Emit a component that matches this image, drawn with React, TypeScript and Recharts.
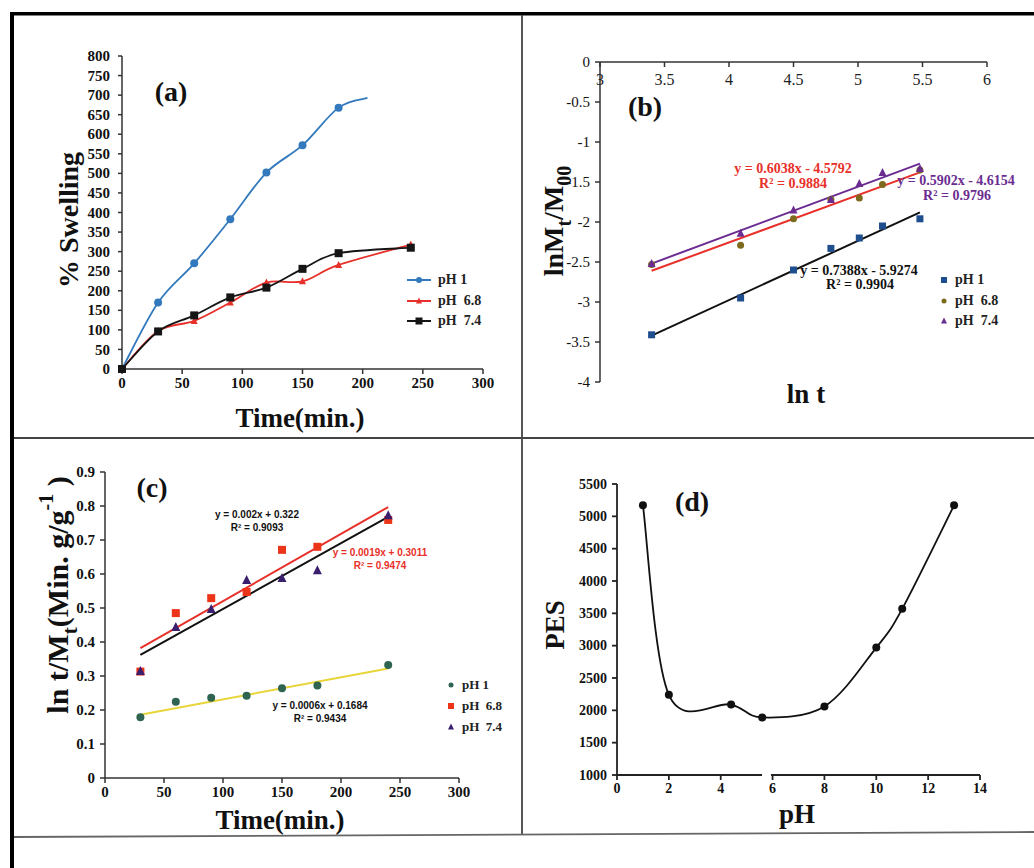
import { LineChart, Line, ComposedChart, Scatter, XAxis, YAxis, Legend, Label } from 'recharts'

const SERIF = '"Liberation Serif", "Times New Roman", serif'
const SANS = '"Liberation Sans", Arial, sans-serif'

// (a) % swelling vs time
const timePh1 = [0, 30, 60, 90, 120, 150, 180, 204]
const swellPh1 = [0, 170, 270, 383, 502, 572, 668, 693]
const timeBuffer = [0, 30, 60, 90, 120, 150, 180, 240]
const swellPh68 = [0, 97, 123, 170, 221, 224, 266, 318]
const swellPh74 = [0, 96, 137, 183, 208, 256, 296, 310]
const ticksTime = [0, 50, 100, 150, 200, 250, 300]
const ticksSwell = [0, 50, 100, 150, 200, 250, 300, 350, 400, 450, 500, 550, 600, 650, 700, 750, 800]

// (b) ln Mt/M00 vs ln t
const lnT = [3.4, 4.09, 4.5, 4.79, 5.01, 5.19, 5.48]
const lnMPh1 = [-3.41, -2.95, -2.6, -2.33, -2.2, -2.05, -1.96]
const lnMPh68 = [-2.53, -2.29, -1.96, -1.72, -1.7, -1.53, -1.35]
const lnMPh74 = [-2.52, -2.14, -1.85, -1.72, -1.52, -1.38, -1.33]
const fitLnT = [3.4, 5.48]
const fitBlackB = [-3.42, -1.88]
const fitRedB = [-2.61, -1.38]
const fitPurpleB = [-2.52, -1.27]
const ticksLnT = [3, 3.5, 4, 4.5, 5, 5.5, 6]
const ticksLnM = [0, -0.5, -1, -1.5, -2, -2.5, -3, -3.5, -4]

// (c) t/Mt vs time
const timeC = [30, 60, 90, 120, 150, 180, 240]
const tMPh1 = [0.179, 0.224, 0.236, 0.242, 0.264, 0.272, 0.332]
const tMPh68 = [0.313, 0.485, 0.529, 0.547, 0.671, 0.68, 0.759]
const tMPh74 = [0.315, 0.444, 0.497, 0.582, 0.588, 0.611, 0.773]
const fitTimeC = [30, 240]
const fitYellowC = [0.186, 0.322]
const fitRedC = [0.382, 0.797]
const fitBlackC = [0.362, 0.768]
const ticksTM = [0, 0.1, 0.2, 0.3, 0.4, 0.5, 0.6, 0.7, 0.8, 0.9]

// (d) PES vs pH
const phD = [1, 2, 4.4, 5.6, 8, 10, 11, 13]
const pes = [5170, 2240, 2090, 1890, 2060, 2970, 3570, 5170]
const ticksPh = [0, 2, 4, 6, 8, 10, 12, 14]
const ticksPes = [1000, 1500, 2000, 2500, 3000, 3500, 4000, 4500, 5000, 5500]

const pts = (xs: number[], ys: number[]) => xs.map((x, i) => ({ x, y: ys[i] }))

// excel style smoothed line: catmull-rom through every point
const excelSmooth = (context: any) => {
  let p: number[][] = []
  return {
    areaStart() {},
    areaEnd() {},
    lineStart() {
      p = []
    },
    point(x: number, y: number) {
      p.push([+x, +y])
    },
    lineEnd() {
      if (!p.length) return
      context.moveTo(p[0][0], p[0][1])
      for (let i = 0; i < p.length - 1; i++) {
        const p0 = p[Math.max(i - 1, 0)]
        const p1 = p[i]
        const p2 = p[i + 1]
        const p3 = p[Math.min(i + 2, p.length - 1)]
        context.bezierCurveTo(
          p1[0] + (p2[0] - p0[0]) / 6,
          p1[1] + (p2[1] - p0[1]) / 6,
          p2[0] - (p3[0] - p1[0]) / 6,
          p2[1] - (p3[1] - p1[1]) / 6,
          p2[0],
          p2[1]
        )
      }
    },
  }
}

type Shape = 'circle' | 'square' | 'triangle'

function Mark({ shape, cx, cy, size, fill }: { shape: Shape; cx: number; cy: number; size: number; fill: string }) {
  const h = size / 2
  if (shape === 'square') return <rect x={cx - h} y={cy - h} width={size} height={size} fill={fill} />
  if (shape === 'triangle')
    return <polygon points={`${cx},${cy - h - 1} ${cx + h + 0.5},${cy + h} ${cx - h - 0.5},${cy + h}`} fill={fill} />
  return <circle cx={cx} cy={cy} r={h} fill={fill} />
}

const dotOf = (shape: Shape, size: number, fill: string, skipX?: number) => (props: any) => {
  if (props.payload.x === skipX) return <g key={`s${props.index}`} />
  return <Mark key={`m${props.index}`} shape={shape} cx={props.cx} cy={props.cy} size={size} fill={fill} />
}

const shapeOf = (shape: Shape, size: number, fill: string) => (props: any) => (
  <Mark shape={shape} cx={props.cx} cy={props.cy} size={size} fill={fill} />
)

// tick text in the figure's serif face
const tickOf = (size: number, weight: string) => (props: any) => {
  const dy = props.verticalAnchor === 'start' ? '0.72em' : '0.34em'
  return (
    <text
      x={props.x}
      y={props.y}
      dy={dy}
      textAnchor={props.textAnchor}
      style={{ fontFamily: SERIF, fontWeight: weight as any, fontSize: size }}
      fill="#111"
    >
      {props.payload.value}
    </text>
  )
}

const hTitle = (cx: number, y: number, text: string, size: number) => () => (
  <text x={cx} y={y} textAnchor="middle" fontFamily={SERIF} fontWeight="bold" fontSize={size} fill="#111">
    {text}
  </text>
)

const vTitle = (cx: number, cy: number, size: number, body: any) => () => (
  <text
    x={cx}
    y={cy}
    transform={`rotate(-90 ${cx} ${cy})`}
    textAnchor="middle"
    dominantBaseline="central"
    fontFamily={SERIF}
    fontWeight="bold"
    fontSize={size}
    fill="#111"
  >
    {body}
  </text>
)

type LegendMark = { shape: Shape; size: number; line?: boolean }

const legendOf = (marks: Record<string, LegendMark>, fontSize: number, rowH: number) =>
  ({ payload }: any) => (
    <div style={{ fontFamily: SERIF, fontWeight: 'bold', fontSize, lineHeight: `${rowH}px`, color: '#222' }}>
      {Object.keys(marks).map((name) => {
        const e = (payload || []).find((p: any) => p.value === name)
        if (!e) return null
        const m = marks[name]
        const w = m.line ? 24 : 10
        return (
          <div key={name} style={{ display: 'flex', alignItems: 'center', whiteSpace: 'pre' }}>
            <svg width={w} height={10} style={{ overflow: 'visible' }}>
              {m.line && <line x1={0} x2={24} y1={5} y2={5} stroke={e.color} strokeWidth={2} />}
              <Mark shape={m.shape} cx={w / 2} cy={5} size={m.size} fill={e.color} />
            </svg>
            <span style={{ marginLeft: m.line ? 7 : 6 }}>{name}</span>
          </div>
        )
      })}
    </div>
  )

const BLUE_A = '#3279bd'
const RED = '#e8302a'
const PURPLE = '#6b2c91'

function SwellingPanel() {
  const tick = tickOf(15, 'bold')
  return (
    <div style={{ position: 'absolute', left: 14, top: 16 }}>
      <LineChart width={505} height={420} margin={{ top: 40, right: 36, bottom: 37, left: 38 }}>
        <XAxis type="number" dataKey="x" domain={[0, 300]} ticks={ticksTime} tick={tick} stroke="#333" strokeWidth={1.5} tickSize={5} tickMargin={3} height={30}>
          <Label content={hTitle(286, 411, 'Time(min.)', 27)} />
        </XAxis>
        <YAxis type="number" domain={[0, 800]} ticks={ticksSwell} tick={tick} stroke="#333" strokeWidth={1.5} tickSize={4} tickMargin={8} width={70} interval={0}>
          <Label content={vTitle(54, 204, 28, '% Swelling')} />
        </YAxis>
        <Legend
          layout="vertical"
          align="center"
          verticalAlign="middle"
          wrapperStyle={{ left: 393, top: 254, width: 90 }}
          content={legendOf(
            {
              'pH 1': { shape: 'circle', size: 6, line: true },
              'pH  6.8': { shape: 'triangle', size: 5, line: true },
              'pH  7.4': { shape: 'square', size: 7, line: true },
            },
            14,
            20.5
          )}
        />
        <Line data={pts(timePh1, swellPh1)} dataKey="y" name="pH 1" type={excelSmooth as any} stroke={BLUE_A} strokeWidth={1.8} dot={dotOf('circle', 8, BLUE_A, 204)} isAnimationActive={false} />
        <Line data={pts(timeBuffer, swellPh68)} dataKey="y" name="pH  6.8" type={excelSmooth as any} stroke={RED} strokeWidth={1.8} dot={dotOf('triangle', 6, RED)} isAnimationActive={false} />
        <Line data={pts(timeBuffer, swellPh74)} dataKey="y" name="pH  7.4" type={excelSmooth as any} stroke="#151515" strokeWidth={1.8} dot={dotOf('square', 8, '#151515')} isAnimationActive={false} />
      </LineChart>
    </div>
  )
}

const lnTTick = (props: any) => (
  <g>
    <line x1={props.x} x2={props.x} y1={props.y} y2={props.y + 5} stroke="#333" strokeWidth={1.5} />
    <text x={props.x} y={props.y + 23} textAnchor="middle" fontFamily={SERIF} fontSize={16} fill="#222">
      {props.payload.value}
    </text>
  </g>
)

function KineticsPanel() {
  return (
    <div style={{ position: 'absolute', left: 524, top: 16 }}>
      <ComposedChart width={508} height={420} margin={{ top: 36, right: 45, bottom: 54, left: 6 }}>
        <XAxis type="number" dataKey="x" orientation="top" domain={[3, 6]} ticks={ticksLnT} tick={lnTTick} tickLine={false} tickSize={0} tickMargin={0} stroke="#333" strokeWidth={1.5} height={10} />
        <YAxis type="number" domain={[-4, 0]} ticks={ticksLnM} tick={tickOf(15, 'normal')} stroke="#333" strokeWidth={1.5} tickSize={5} tickMargin={5} width={70} interval={0}>
          <Label
            content={vTitle(
              29,
              205,
              28,
              <>
                lnM<tspan baselineShift="sub" fontSize={20}>t</tspan>/M<tspan baselineShift="sub" fontSize={20}>00</tspan>
              </>
            )}
          />
        </YAxis>
        <Legend
          layout="vertical"
          align="center"
          verticalAlign="middle"
          wrapperStyle={{ left: 415, top: 254, width: 90 }}
          content={legendOf(
            {
              'pH 1': { shape: 'square', size: 6 },
              'pH  6.8': { shape: 'circle', size: 5 },
              'pH  7.4': { shape: 'triangle', size: 5 },
            },
            14,
            20.5
          )}
        />
        <Line data={pts(fitLnT, fitPurpleB)} dataKey="y" name="fit 7.4" stroke={PURPLE} strokeWidth={2} dot={false} legendType="none" isAnimationActive={false} />
        <Line data={pts(fitLnT, fitRedB)} dataKey="y" name="fit 6.8" stroke={RED} strokeWidth={2} dot={false} legendType="none" isAnimationActive={false} />
        <Line data={pts(fitLnT, fitBlackB)} dataKey="y" name="fit 1" stroke="#111" strokeWidth={2} dot={false} legendType="none" isAnimationActive={false} />
        <Scatter data={pts(lnT, lnMPh1)} dataKey="y" name="pH 1" fill="#1f4e8f" shape={shapeOf('square', 7, '#1f4e8f')} isAnimationActive={false} />
        <Scatter data={pts(lnT, lnMPh68)} dataKey="y" name="pH  6.8" fill="#7d6a1c" shape={shapeOf('circle', 7, '#7d6a1c')} isAnimationActive={false} />
        <Scatter data={pts(lnT, lnMPh74)} dataKey="y" name="pH  7.4" fill={PURPLE} shape={shapeOf('triangle', 7, PURPLE)} isAnimationActive={false} />
      </ComposedChart>
    </div>
  )
}

function SecondOrderPanel() {
  const tick = tickOf(15, 'bold')
  return (
    <div style={{ position: 'absolute', left: 14, top: 440 }}>
      <ComposedChart width={505} height={410} margin={{ top: 32, right: 60, bottom: 42, left: 21 }}>
        <XAxis type="number" dataKey="x" domain={[0, 300]} ticks={ticksTime} tick={tick} stroke="#333" strokeWidth={1.5} tickSize={5} tickMargin={3} height={30}>
          <Label content={hTitle(266, 389, 'Time(min.)', 27)} />
        </XAxis>
        <YAxis type="number" domain={[0, 0.9]} ticks={ticksTM} tick={tick} stroke="#333" strokeWidth={1.5} tickSize={5} tickMargin={5} width={70} interval={0}>
          <Label
            content={vTitle(
              43,
              155,
              30,
              <>
                ln t/M<tspan baselineShift="sub" fontSize={22}>t</tspan>(Min. g/g<tspan baselineShift="super" fontSize={20}>-1</tspan> )
              </>
            )}
          />
        </YAxis>
        <Legend
          layout="vertical"
          align="center"
          verticalAlign="middle"
          wrapperStyle={{ left: 432, top: 234, width: 80 }}
          content={legendOf(
            {
              'pH 1': { shape: 'circle', size: 5 },
              'pH  6.8': { shape: 'square', size: 6 },
              'pH  7.4': { shape: 'triangle', size: 5 },
            },
            13,
            21
          )}
        />
        <Line data={pts(fitTimeC, fitYellowC)} dataKey="y" name="fit 1" stroke="#e8d53a" strokeWidth={2} dot={false} legendType="none" isAnimationActive={false} />
        <Line data={pts(fitTimeC, fitRedC)} dataKey="y" name="fit 6.8" stroke={RED} strokeWidth={2} dot={false} legendType="none" isAnimationActive={false} />
        <Line data={pts(fitTimeC, fitBlackC)} dataKey="y" name="fit 7.4" stroke="#111" strokeWidth={2} dot={false} legendType="none" isAnimationActive={false} />
        <Scatter data={pts(timeC, tMPh1)} dataKey="y" name="pH 1" fill="#2e6450" shape={shapeOf('circle', 8, '#2e6450')} isAnimationActive={false} />
        <Scatter data={pts(timeC, tMPh68)} dataKey="y" name="pH  6.8" fill="#ec3419" shape={shapeOf('square', 8, '#ec3419')} isAnimationActive={false} />
        <Scatter data={pts(timeC, tMPh74)} dataKey="y" name="pH  7.4" fill="#3a1f6e" shape={shapeOf('triangle', 8, '#3a1f6e')} isAnimationActive={false} />
      </ComposedChart>
    </div>
  )
}

function PesPanel() {
  const tick = tickOf(14, 'bold')
  return (
    <div style={{ position: 'absolute', left: 524, top: 440 }}>
      <LineChart width={508} height={392} margin={{ top: 44, right: 52, bottom: 27, left: 23 }}>
        <XAxis type="number" dataKey="x" domain={[0, 14]} ticks={ticksPh} tick={tick} stroke="#222" strokeWidth={1.8} tickSize={5} tickMargin={3} height={30}>
          <Label content={hTitle(273, 383, 'pH', 27)} />
        </XAxis>
        <YAxis type="number" domain={[1000, 5500]} ticks={ticksPes} tick={tick} stroke="#222" strokeWidth={1.8} tickSize={5} tickMargin={5} width={70} interval={0}>
          <Label content={vTitle(31, 185, 27, 'PES')} />
        </YAxis>
        <Line data={pts(phD, pes)} dataKey="y" name="PES" type={excelSmooth as any} stroke="#111" strokeWidth={1.8} dot={dotOf('circle', 8, '#111')} isAnimationActive={false} />
      </LineChart>
    </div>
  )
}

function Annotations() {
  const eqB = { fontFamily: SERIF, fontWeight: 'bold', fontSize: 14, textAnchor: 'middle' as const }
  const eqC = { fontFamily: SANS, fontWeight: 'bold', fontSize: 10, textAnchor: 'middle' as const }
  const letter = { fontFamily: SERIF, fontWeight: 'bold', fontSize: 28, textAnchor: 'middle' as const, fill: '#111' }
  return (
    <svg width={1034} height={868} style={{ position: 'absolute', left: 0, top: 0, pointerEvents: 'none' }}>
      {/* frame */}
      <rect x={10} y={12} width={1024} height={3.5} fill="#000" />
      <rect x={10} y={12} width={4} height={856} fill="#000" />
      <line x1={522} x2={522} y1={15} y2={835} stroke="#444" strokeWidth={1.8} />
      <line x1={14} x2={1034} y1={438} y2={438} stroke="#444" strokeWidth={1.8} />
      <line x1={14} x2={1034} y1={837} y2={832} stroke="#666" strokeWidth={1.8} />
      {/* gap in the pH axis */}
      <rect x={762} y={772} width={9} height={6} fill="#fff" />

      <text x={171} y={101} {...letter}>(a)</text>
      <text x={645} y={116} {...letter}>(b)</text>
      <text x={152} y={497} {...letter}>(c)</text>
      <text x={692} y={511} {...letter}>(d)</text>

      <text x={806} y={403} fontFamily={SERIF} fontWeight="bold" fontSize={27} textAnchor="middle" fill="#111">ln t</text>

      <text x={793} y={173} {...eqB} fill={RED}>y = 0.6038x - 4.5792</text>
      <text x={793} y={188} {...eqB} fill={RED}>R² = 0.9884</text>
      <text x={956} y={185} {...eqB} fill={PURPLE}>y = 0.5902x - 4.6154</text>
      <text x={957} y={200} {...eqB} fill={PURPLE}>R² = 0.9796</text>
      <text x={859} y={275} {...eqB} fill="#111">y = 0.7388x - 5.9274</text>
      <text x={860} y={289} {...eqB} fill="#111">R² = 0.9904</text>

      <text x={257} y={518} {...eqC} fill="#111">y = 0.002x + 0.322</text>
      <text x={257} y={531} {...eqC} fill="#111">R² = 0.9093</text>
      <text x={380} y={556} {...eqC} fill={RED}>y = 0.0019x + 0.3011</text>
      <text x={380} y={569} {...eqC} fill={RED}>R² = 0.9474</text>
      <text x={320} y={709} {...eqC} fill="#111">y = 0.0006x + 0.1684</text>
      <text x={320} y={722} {...eqC} fill="#111">R² = 0.9434</text>
    </svg>
  )
}

export default function App() {
  return (
    <div style={{ position: 'relative', width: 1034, height: 868, background: '#fff' }}>
      <style>{'body{margin:0}'}</style>
      <SwellingPanel />
      <KineticsPanel />
      <SecondOrderPanel />
      <PesPanel />
      <Annotations />
    </div>
  )
}
